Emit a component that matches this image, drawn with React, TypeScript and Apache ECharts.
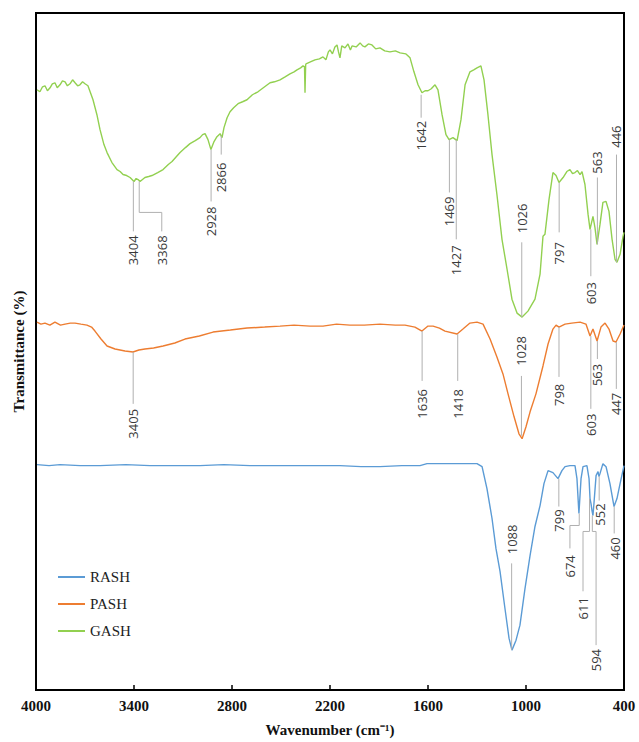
import React, { useEffect, useRef } from "react";
import * as echarts from "echarts";

// Legend / series names
const seriesNames = ["RASH", "PASH", "GASH"];
const seriesColors = ["#5B9BD5", "#ED7D31", "#92D050"];

// Wavenumber ticks (cm-1)
const xTicks = [4000, 3400, 2800, 2200, 1600, 1000, 400];

// [wavenumber, transmittance (a.u., offset)]
const gashData: [number, number][] = [
  [3994, 602], [3976, 600], [3960, 605], [3945, 606], [3930, 601], [3914, 604], [3900, 608], [3884, 609],
  [3870, 604], [3853, 607], [3838, 611], [3822, 610], [3808, 606], [3792, 608], [3776, 612], [3761, 609],
  [3745, 606], [3731, 607], [3715, 610], [3700, 608], [3682, 606], [3651, 592], [3627, 577], [3608, 562],
  [3584, 547], [3565, 539], [3535, 529], [3504, 522], [3485, 520], [3467, 517], [3445, 516], [3424, 514],
  [3400, 510], [3387, 513], [3375, 512], [3363, 510], [3333, 514], [3310, 515], [3290, 516], [3255, 519],
  [3222, 522], [3190, 527], [3167, 530], [3140, 535], [3118, 539], [3085, 544], [3057, 548], [3025, 551],
  [2996, 554], [2980, 557], [2965, 558], [2947, 552], [2929, 542], [2910, 550], [2892, 555], [2873, 558],
  [2861, 554], [2849, 564], [2830, 574], [2812, 580], [2790, 584], [2763, 588], [2735, 590], [2708, 592],
  [2675, 597], [2641, 600], [2600, 605], [2567, 609], [2540, 610], [2506, 612], [2475, 615], [2445, 618],
  [2420, 620], [2402, 622], [2380, 624], [2365, 626], [2356, 625], [2353, 599], [2349, 627], [2347, 628],
  [2320, 630], [2292, 632], [2265, 633], [2243, 635], [2225, 632], [2210, 640], [2200, 642], [2185, 638],
  [2170, 645], [2157, 647], [2148, 640], [2139, 634], [2128, 646], [2108, 644], [2090, 648], [2075, 642],
  [2065, 646], [2040, 645], [2016, 649], [2000, 646], [1986, 645], [1965, 648], [1943, 647], [1920, 643],
  [1894, 644], [1865, 641], [1833, 640], [1800, 641], [1771, 639], [1735, 638], [1710, 634], [1686, 620],
  [1661, 607], [1637, 599], [1618, 601], [1600, 601], [1580, 603], [1557, 607], [1539, 602], [1514, 577],
  [1490, 557], [1471, 552], [1447, 554], [1422, 551], [1398, 572], [1373, 607], [1343, 620], [1320, 622],
  [1300, 624], [1276, 626], [1257, 612], [1233, 577], [1208, 537], [1178, 497], [1147, 452], [1116, 422],
  [1086, 392], [1055, 378], [1024, 374], [988, 380], [945, 392], [914, 417], [896, 455], [884, 457],
  [859, 492], [835, 519], [816, 516], [798, 509], [773, 514], [750, 520], [731, 522], [715, 518],
  [700, 519], [685, 521], [669, 517], [657, 520], [639, 507], [620, 477], [608, 462], [590, 475],
  [578, 464], [565, 447], [547, 467], [529, 489], [510, 490], [492, 480], [473, 452], [455, 432],
  [443, 429], [424, 437], [406, 455], [400, 459],
];

const pashData: [number, number][] = [
  [3994, 369], [3970, 367], [3945, 368], [3915, 366], [3884, 369], [3850, 366], [3822, 367], [3790, 368],
  [3761, 368], [3725, 367], [3688, 366], [3660, 364], [3639, 360], [3602, 352], [3565, 345], [3516, 342],
  [3455, 340], [3406, 339], [3370, 341], [3333, 342], [3280, 343], [3222, 345], [3150, 348], [3088, 352],
  [3000, 355], [2916, 359], [2810, 361], [2708, 363], [2600, 364], [2506, 365], [2420, 366], [2322, 365],
  [2243, 365], [2160, 367], [2078, 366], [1990, 366], [1894, 367], [1800, 366], [1741, 366], [1680, 364],
  [1637, 360], [1600, 365], [1569, 365], [1530, 363], [1496, 360], [1422, 357], [1386, 362], [1343, 368],
  [1300, 369], [1263, 367], [1220, 352], [1178, 334], [1141, 317], [1110, 297], [1073, 274], [1043, 257],
  [1024, 252], [1000, 264], [975, 279], [939, 297], [896, 325], [865, 347], [835, 362], [816, 366],
  [798, 364], [761, 367], [720, 368], [669, 369], [633, 367], [608, 355], [590, 362], [565, 350],
  [541, 364], [516, 368], [492, 362], [467, 350], [449, 349], [424, 357], [400, 366],
];

const rashData: [number, number][] = [
  [3994, 226], [3920, 225], [3853, 226], [3730, 225], [3608, 225], [3450, 226], [3302, 225], [3150, 225],
  [2996, 225], [2850, 226], [2690, 225], [2540, 225], [2384, 225], [2260, 225], [2139, 225], [2010, 224],
  [1894, 224], [1760, 225], [1649, 225], [1606, 227], [1465, 227], [1300, 227], [1269, 224], [1239, 202],
  [1208, 172], [1184, 142], [1159, 119], [1129, 82], [1104, 52], [1086, 40], [1061, 50], [1037, 65],
  [1006, 102], [975, 135], [945, 164], [914, 185], [890, 207], [865, 220], [835, 218], [804, 212],
  [780, 220], [761, 224], [731, 225], [700, 225], [688, 212], [676, 177], [663, 212], [651, 224],
  [627, 225], [614, 212], [608, 192], [602, 187], [596, 180], [590, 175], [584, 187], [571, 215],
  [559, 219], [553, 214], [547, 217], [529, 227], [510, 224], [486, 207], [461, 184], [443, 192],
  [424, 207], [400, 225],
];

// Peak annotations: label text, leader line points and label centre (data coordinates)
const peakLabels = [
  "3404", "3368", "2928", "2866", "1642", "1469", "1427", "1026", "797", "603", "563", "446",
  "3405", "1636", "1418", "1028", "798", "603", "563", "447",
  "1088", "799", "674", "611", "594", "552", "460",
];
const peakLines: [number, number][][] = [
  [[3404, 510], [3404, 460]],
  [[3368, 510], [3368, 479], [3230, 479], [3230, 460]],
  [[2928, 542], [2928, 490]],
  [[2866, 556], [2866, 537]],
  [[1642, 597], [1642, 574]],
  [[1469, 552], [1469, 499]],
  [[1427, 552], [1427, 452]],
  [[1026, 374], [1026, 449]],
  [[797, 509], [797, 459]],
  [[603, 462], [603, 415]],
  [[563, 447], [563, 514]],
  [[446, 429], [446, 537]],
  [[3405, 339], [3405, 287]],
  [[1636, 360], [1636, 310]],
  [[1418, 357], [1418, 310]],
  [[1028, 255], [1028, 315]],
  [[798, 364], [798, 314]],
  [[603, 355], [603, 282]],
  [[563, 350], [563, 332]],
  [[447, 349], [447, 302]],
  [[1088, 40], [1088, 127]],
  [[799, 212], [799, 184]],
  [[674, 177], [674, 165], [731, 165], [731, 142]],
  [[611, 192], [611, 159], [651, 159], [651, 99]],
  [[594, 175], [594, 159], [571, 159], [571, 45]],
  [[552, 214], [552, 190]],
  [[460, 184], [460, 157]],
];
const peakLabelAt: [number, number][] = [
  [3404, 441], [3230, 441], [2928, 470], [2866, 514], [1642, 556], [1469, 480], [1427, 431],
  [1026, 473], [797, 438], [603, 398], [563, 529], [446, 555],
  [3405, 267], [1636, 287], [1418, 287], [1028, 340], [798, 296], [603, 266], [563, 316], [447, 287],
  [1088, 151], [799, 170], [731, 124], [651, 82], [571, 30], [548, 176], [458, 142],
];

export default function App() {
  const ref = useRef<HTMLDivElement>(null);
  useEffect(() => {
    document.body.style.margin = "0";
    if (!ref.current) return;
    const chart = echarts.init(ref.current, null, { renderer: "svg" });
    const serif = "Liberation Serif";
    const dataMap: Record<string, [number, number][]> = {
      RASH: rashData,
      PASH: pashData,
      GASH: gashData,
    };
    const lineSeries = ["GASH", "PASH", "RASH"].map((n) => ({
      name: n,
      type: "line",
      data: dataMap[n],
      showSymbol: false,
      symbol: "none",
      lineStyle: { width: 1.4, color: seriesColors[seriesNames.indexOf(n)] },
      itemStyle: { color: seriesColors[seriesNames.indexOf(n)] },
      z: 3,
    }));
    const option: any = {
      animation: false,
      grid: {
        left: 36,
        right: 15,
        top: 13,
        bottom: 50,
        show: true,
        borderColor: "#000",
        borderWidth: 2,
        backgroundColor: "transparent",
      },
      legend: {
        data: seriesNames,
        orient: "vertical",
        left: 53,
        top: 564,
        icon: "rect",
        itemWidth: 27,
        itemHeight: 2,
        itemGap: 11,
        textStyle: { fontFamily: serif, fontSize: 15, color: "#222", lineHeight: 16 },
      },
      xAxis: {
        type: "value",
        inverse: true,
        min: 400,
        max: 4000,
        interval: 600,
        name: "Wavenumber (cm⁻¹)",
        nameLocation: "middle",
        nameGap: 32,
        nameTextStyle: { fontFamily: serif, fontWeight: "bold", fontSize: 15, color: "#111" },
        axisLine: { show: true, lineStyle: { color: "#000", width: 2 } },
        axisTick: { show: true, inside: true, length: 5, lineStyle: { color: "#000", width: 1.5 } },
        axisLabel: {
          fontFamily: serif,
          fontWeight: "bold",
          fontSize: 15,
          color: "#111",
          margin: 8,
          formatter: (v: number) => (xTicks.includes(v) ? String(v) : ""),
        },
        splitLine: { show: false },
      },
      yAxis: {
        type: "value",
        min: 0,
        max: 679,
        name: "Transmittance (%)",
        nameLocation: "middle",
        nameGap: 10,
        nameTextStyle: { fontFamily: serif, fontWeight: "bold", fontSize: 15, color: "#111" },
        axisLine: { show: true, lineStyle: { color: "#000", width: 2 } },
        axisTick: { show: false },
        axisLabel: { show: false },
        splitLine: { show: false },
      },
      series: [
        ...lineSeries,
        {
          type: "custom",
          coordinateSystem: "cartesian2d",
          silent: true,
          clip: false,
          z: 4,
          data: peakLabelAt.map((p) => [p[0], p[1]]),
          encode: { x: 0, y: 1 },
          renderItem: (params: any, api: any) => {
            const i = params.dataIndex;
            const pts = peakLines[i].map((p) => api.coord(p));
            const c = api.coord(peakLabelAt[i]);
            return {
              type: "group",
              children: [
                {
                  type: "polyline",
                  shape: { points: pts },
                  style: { stroke: "#b0b0b0", lineWidth: 1, fill: null },
                },
                {
                  type: "text",
                  x: c[0],
                  y: c[1],
                  rotation: Math.PI / 2,
                  style: {
                    text: peakLabels[i],
                    fill: "#3a3a3a",
                    fontFamily: "Open Sans",
                    fontSize: 13,
                    align: "center",
                    verticalAlign: "middle",
                  },
                },
              ],
            };
          },
        },
      ],
    };
    chart.setOption(option);
    return () => chart.dispose();
  }, []);
  return <div ref={ref} style={{ width: 639, height: 742 }} />;
}
